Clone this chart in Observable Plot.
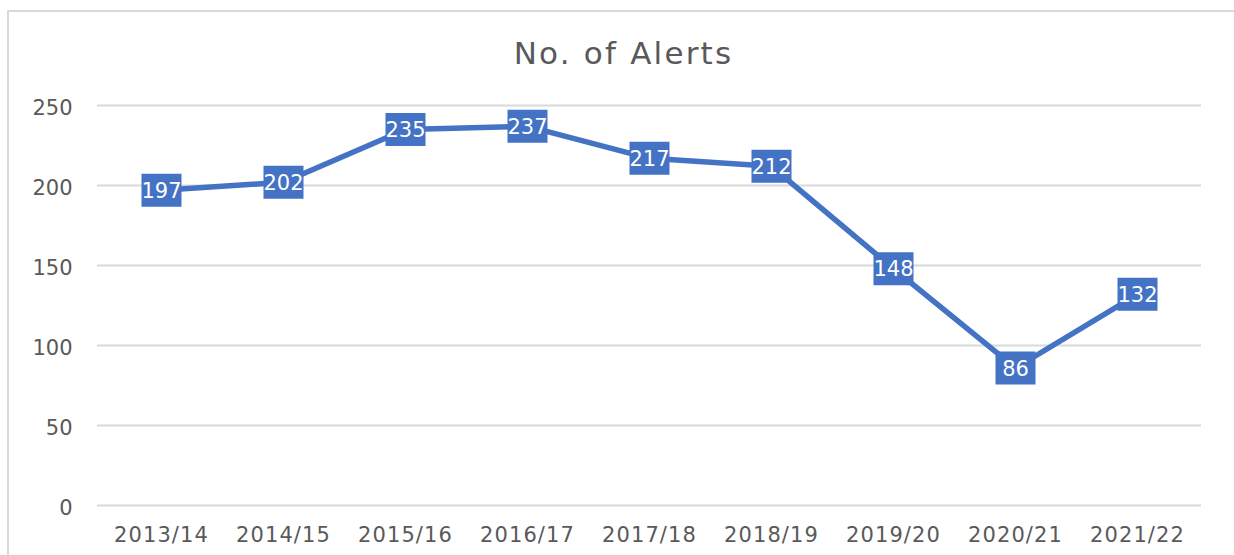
<!DOCTYPE html>
<html>
<head>
<meta charset="utf-8">
<script src="https://cdn.jsdelivr.net/npm/d3@7"></script>
<script src="https://cdn.jsdelivr.net/npm/@observablehq/plot@0.6"></script>
<style>
  html, body { margin: 0; padding: 0; background: #fff; overflow: hidden; }
  #wrap { position: relative; width: 1234px; height: 555px; overflow: hidden; }
  #border { position: absolute; left: 7px; top: 10px; width: 1300px; height: 700px; border-top: 2px solid #d9d9d9; border-left: 2px solid #d9d9d9; border-right: none; border-bottom: none; box-sizing: border-box; }
  #chart { position: absolute; left: 0; top: 0; }
  #chart g[aria-label="x-axis tick label"] text { letter-spacing: 1.1px; }
  #chart g.title-text text { letter-spacing: 2.2px; }
</style>
</head>
<body>
<div id="wrap"><div id="border"></div><div id="chart"></div></div>
<script>
const titleText = "No. of Alerts";
const years = ["2013/14","2014/15","2015/16","2016/17","2017/18","2018/19","2019/20","2020/21","2021/22"];
const alerts = [197, 202, 235, 237, 217, 212, 148, 86, 132];
const yTicks = [0, 50, 100, 150, 200, 250];

const data = years.map((y, i) => ({year: y, value: alerts[i]}));
const blue = "#4472C4";
const grey = "#595959";

const boxSymbol = {
  draw(context) {
    context.moveTo(-20, -16.5);
    context.lineTo(20, -16.5);
    context.lineTo(20, 16.5);
    context.lineTo(-20, 16.5);
    context.closePath();
  }
};

const chart = Plot.plot({
  width: 1234,
  height: 555,
  marginLeft: 97,
  marginRight: 33,
  marginTop: 105,
  marginBottom: 50,
  style: { fontFamily: "'DejaVu Sans', sans-serif", background: "transparent", overflow: "visible" },
  x: { type: "point", domain: years, padding: 0.5, label: null },
  y: { domain: [0, 250], label: null },
  marks: [
    Plot.gridY(yTicks, { stroke: "#d9d9d9", strokeOpacity: 1, strokeWidth: 2 }),
    Plot.axisY(yTicks, { tickSize: 0, tickPadding: 25, fontSize: 21, fill: grey, label: null, dy: 3 }),
    Plot.axisX(years, { tickSize: 0, tickPadding: 22, fontSize: 21, fill: grey, label: null }),
    Plot.line(data, { x: "year", y: "value", stroke: blue, strokeWidth: 5.5, strokeLinejoin: "round" }),
    Plot.dot(data, { x: "year", y: "value", symbol: boxSymbol, fill: blue, stroke: "none", r: 10 }),
    Plot.text(data, { x: "year", y: "value", text: d => String(d.value), fill: "white", fontSize: 21, dy: 1 }),
    Plot.text([titleText], { frameAnchor: "top", dx: -26, dy: -51, fontSize: 31, fill: grey, lineAnchor: "middle", className: "title-text" })
  ]
});
document.getElementById("chart").appendChild(chart);
</script>
</body>
</html>
